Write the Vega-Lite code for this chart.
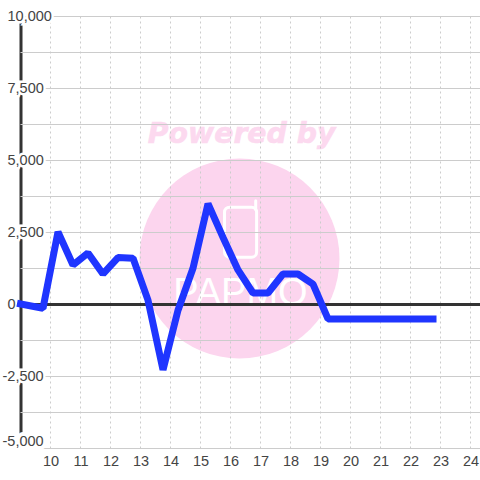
{
"$schema":"https://vega.github.io/schema/vega-lite/v6.json",
"width":460,"height":432,
"autosize":{"type":"none"},
"padding":{"left":20.5,"top":16.5,"right":0,"bottom":31.5},
"background":"white",
"config":{"view":{"stroke":null},
 "axisX":{"title":null,"tickCount":16,"grid":false,"domain":false,"ticks":false,"labelFontSize":14.5,"labelFont":"Liberation Sans","labelColor":"#444444","labelPadding":6,"labelOverlap":false,"format":"d","labelExpr":"datum.value<10?'':datum.label"},
 "axisY":{"title":null,"labels":false,"grid":false,"ticks":false,"domain":true,"domainColor":"#333333","domainWidth":3}},
"datasets":{
"series":[{"hour":9,"value":20},{"hour":9.75,"value":-130},{"hour":10.25,"value":2520},{"hour":10.75,"value":1370},{"hour":11.25,"value":1790},{"hour":11.75,"value":1060},{"hour":12.25,"value":1630},{"hour":12.75,"value":1610},{"hour":13.25,"value":150},{"hour":13.75,"value":-2270},{"hour":14.25,"value":-200},{"hour":14.75,"value":1260},{"hour":15.25,"value":3500},{"hour":15.75,"value":2330},{"hour":16.25,"value":1200},{"hour":16.75,"value":400},{"hour":17.25,"value":400},{"hour":17.75,"value":1060},{"hour":18.25,"value":1060},{"hour":18.75,"value":710},{"hour":19.25,"value":-500},{"hour":19.75,"value":-500},{"hour":20.25,"value":-500},{"hour":20.75,"value":-500},{"hour":21.25,"value":-500},{"hour":21.75,"value":-500},{"hour":22.25,"value":-500},{"hour":22.75,"value":-500}],
"ygrid":[{"v":-5000},{"v":-3750},{"v":-2500},{"v":-1250},{"v":0},{"v":1250},{"v":2500},{"v":3750},{"v":5000},{"v":6250},{"v":7500},{"v":8750},{"v":10000}],
"xgrid":[{"h":10},{"h":11},{"h":12},{"h":13},{"h":14},{"h":15},{"h":16},{"h":17},{"h":18},{"h":19},{"h":20},{"h":21},{"h":22},{"h":23},{"h":24}],
"ylabels":[{"v":-5000,"label":"-5,000"},{"v":-2500,"label":"-2,500"},{"v":0,"label":"0"},{"v":2500,"label":"2,500"},{"v":5000,"label":"5,000"},{"v":7500,"label":"7,500"},{"v":10000,"label":"10,000"}]
},
"encoding":{},
"layer":[
{"data":{"values":[{}]},"mark":{"type":"point","shape":"circle","filled":true,"fill":"#fcd5ee","stroke":null,"opacity":1,"size":40000},
 "encoding":{"x":{"datum":16.3,"type":"quantitative","scale":{"domain":[9,24.3333],"nice":false,"zero":false}},
  "y":{"datum":1597,"type":"quantitative","scale":{"domain":[-5000,10000],"nice":false,"zero":false}}}},
{"data":{"values":[{}]},"mark":{"type":"text","text":"Powered by","font":"DejaVu Sans","fontWeight":"bold","fontStyle":"italic","fontSize":28.3,"fill":"#fcd9ef","stroke":"#fcd9ef","strokeWidth":0.6,"align":"center","baseline":"middle"},
 "encoding":{"x":{"datum":16.37,"type":"quantitative"},"y":{"datum":5885,"type":"quantitative"}}},
{"data":{"values":[{}]},"mark":{"type":"rect","fill":null,"stroke":"#ffffff","strokeWidth":3,"cornerRadius":5},
 "encoding":{"x":{"datum":15.8,"type":"quantitative"},"x2":{"datum":16.87},"y":{"datum":3380,"type":"quantitative"},"y2":{"datum":1640}}},
{"data":{"values":[{}]},"mark":{"type":"rule","stroke":"#ffffff","strokeWidth":3,"strokeCap":"round"},
 "encoding":{"x":{"datum":16.84,"type":"quantitative"},"y":{"datum":3600,"type":"quantitative"},"y2":{"datum":3300}}},
{"data":{"values":[{}]},"mark":{"type":"text","text":"PAPMO","font":"Liberation Sans","fontSize":38,"fill":"#ffffff","align":"center","baseline":"alphabetic"},
 "encoding":{"x":{"datum":16.33,"type":"quantitative"},"y":{"datum":-30,"type":"quantitative"}}},
{"data":{"name":"ygrid"},"mark":{"type":"rule","stroke":"#cccccc","strokeWidth":1},"encoding":{"y":{"field":"v","type":"quantitative"}}},
{"data":{"name":"xgrid"},"mark":{"type":"rule","stroke":"#cccccc","strokeWidth":1,"strokeDash":[2,3]},"encoding":{"x":{"field":"h","type":"quantitative"}}},
{"data":{"values":[{"v":0}]},"mark":{"type":"rule","stroke":"#333333","strokeWidth":3},"encoding":{"y":{"field":"v","type":"quantitative"}}},
{"data":{"name":"ylabels"},"transform":[{"filter":"datum.v>=0"}],"mark":{"type":"text","align":"left","baseline":"middle","dx":-13,"dy":0.5,"font":"Liberation Sans","fontSize":14.5,"stroke":"#ffffff","strokeWidth":5,"fill":"#ffffff"},
 "encoding":{"x":{"datum":9,"type":"quantitative"},"y":{"field":"v","type":"quantitative"},"text":{"field":"label"}}},
{"data":{"name":"ylabels"},"transform":[{"filter":"datum.v==-2500"}],"mark":{"type":"text","align":"left","baseline":"middle","dx":-18,"dy":0.5,"font":"Liberation Sans","fontSize":14.5,"stroke":"#ffffff","strokeWidth":5,"fill":"#ffffff"},
 "encoding":{"x":{"datum":9,"type":"quantitative"},"y":{"field":"v","type":"quantitative"},"text":{"field":"label"}}},
{"data":{"name":"ylabels"},"transform":[{"filter":"datum.v==-5000"}],"mark":{"type":"text","align":"left","baseline":"middle","dx":-18,"dy":-6.5,"font":"Liberation Sans","fontSize":14.5,"stroke":"#ffffff","strokeWidth":8,"fill":"#ffffff"},
 "encoding":{"x":{"datum":9,"type":"quantitative"},"y":{"field":"v","type":"quantitative"},"text":{"field":"label"}}},
{"data":{"name":"ylabels"},"transform":[{"filter":"datum.v>=0"}],"mark":{"type":"text","align":"left","baseline":"middle","dx":-13,"dy":0.5,"font":"Liberation Sans","fontSize":14.5,"fill":"#444444"},
 "encoding":{"x":{"datum":9,"type":"quantitative"},"y":{"field":"v","type":"quantitative"},"text":{"field":"label"}}},
{"data":{"name":"ylabels"},"transform":[{"filter":"datum.v==-2500"}],"mark":{"type":"text","align":"left","baseline":"middle","dx":-18,"dy":0.5,"font":"Liberation Sans","fontSize":14.5,"fill":"#444444"},
 "encoding":{"x":{"datum":9,"type":"quantitative"},"y":{"field":"v","type":"quantitative"},"text":{"field":"label"}}},
{"data":{"name":"ylabels"},"transform":[{"filter":"datum.v==-5000"}],"mark":{"type":"text","align":"left","baseline":"middle","dx":-18,"dy":-6.5,"font":"Liberation Sans","fontSize":14.5,"fill":"#444444"},
 "encoding":{"x":{"datum":9,"type":"quantitative"},"y":{"field":"v","type":"quantitative"},"text":{"field":"label"}}},
{"data":{"name":"series"},"mark":{"type":"line","stroke":"#1f35ff","strokeWidth":7,"strokeCap":"square","strokeJoin":"bevel","interpolate":"linear"},
 "encoding":{"x":{"field":"hour","type":"quantitative"},"y":{"field":"value","type":"quantitative"}}}
]
}
